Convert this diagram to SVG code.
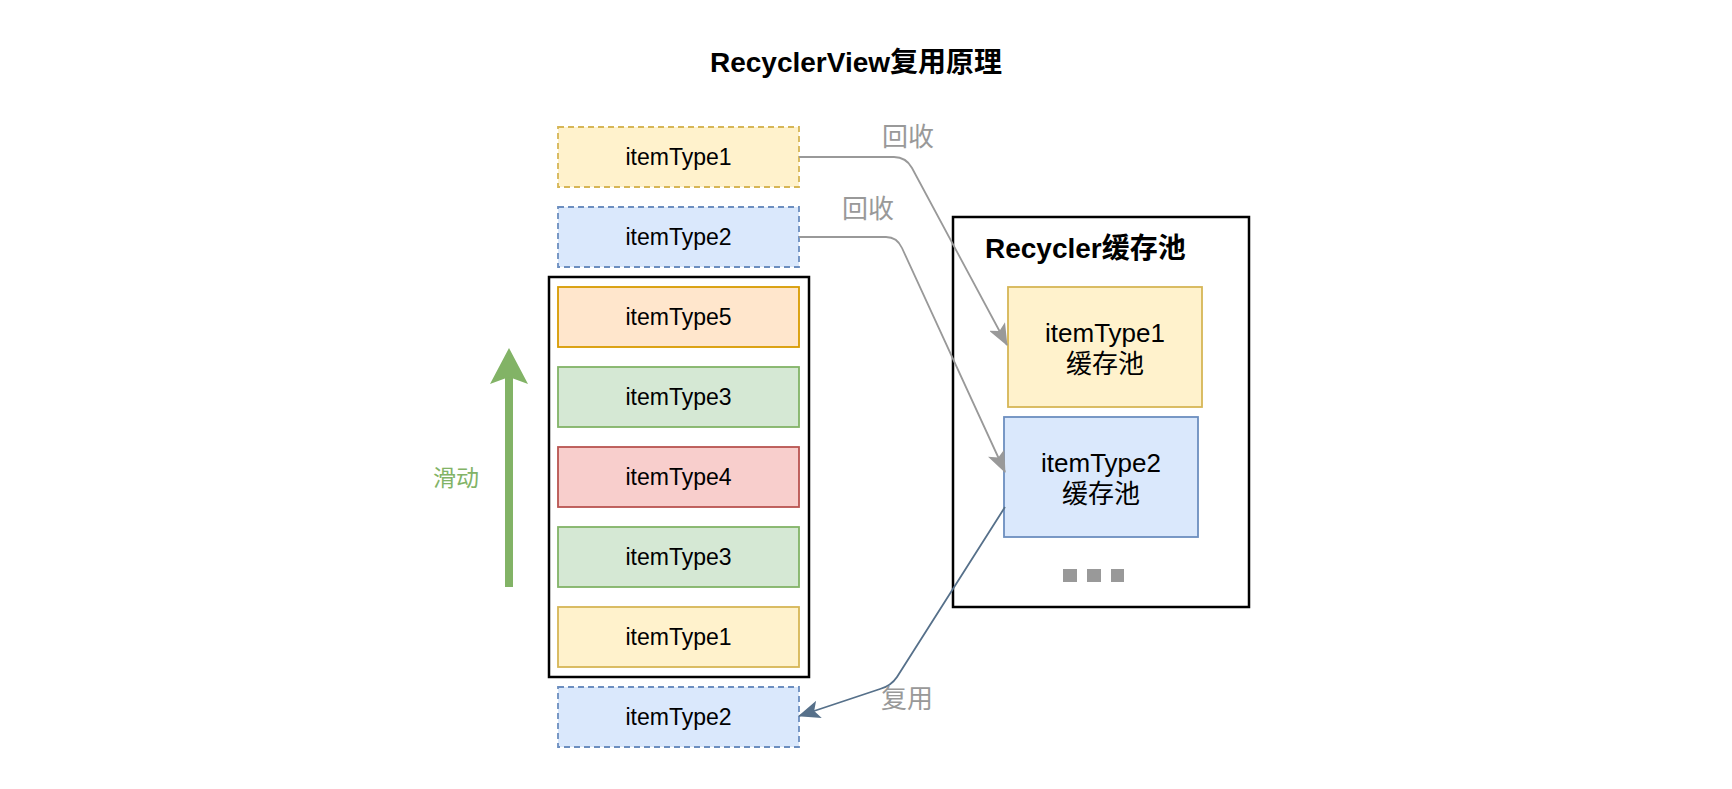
<svg xmlns="http://www.w3.org/2000/svg" width="1732" height="789" viewBox="0 0 1732 789">
<style>
text{font-family:"Liberation Sans","Noto Sans CJK SC",sans-serif;fill:#000;text-anchor:middle}
.item{font-size:23px}
.pool{font-size:26px}
.title{font-size:28px;font-weight:bold}
.lbl{font-size:26px;fill:#999}
.y{fill:#fff2cc;stroke:#d6b656;stroke-width:1.8}
.b{fill:#dae8fc;stroke:#6c8ebf;stroke-width:1.8}
.o{fill:#ffe6cc;stroke:#d79b00;stroke-width:1.8}
.g{fill:#d5e8d4;stroke:#82b366;stroke-width:1.8}
.r{fill:#f8cecc;stroke:#b85450;stroke-width:1.8}
.d{stroke-dasharray:6 4}
.frame{fill:none;stroke:#000;stroke-width:2.5}
.edge{fill:none;stroke-width:1.8}
</style>
<defs>
<marker id="ag" markerUnits="userSpaceOnUse" markerWidth="22" markerHeight="18" refX="21" refY="9" orient="auto" viewBox="0 0 22 18">
<path d="M0,0 L22,9 L0,18 L5,9 Z" fill="#999"/>
</marker>
<marker id="ab" markerUnits="userSpaceOnUse" markerWidth="22" markerHeight="18" refX="21" refY="9" orient="auto" viewBox="0 0 22 18">
<path d="M0,0 L22,9 L0,18 L5,9 Z" fill="#56708a"/>
</marker>
</defs>

<text id="title" class="title" x="856" y="72">RecyclerView复用原理</text>

<g id="list-frame"><rect class="frame" x="549" y="277" width="260" height="400"/></g>

<g id="n-top1"><rect class="y d" x="558" y="127" width="241" height="60"/><text class="item" x="678.5" y="165">itemType1</text></g>
<g id="n-top2"><rect class="b d" x="558" y="207" width="241" height="60"/><text class="item" x="678.5" y="245">itemType2</text></g>
<g id="n-t5"><rect class="o" x="558" y="287" width="241" height="60"/><text class="item" x="678.5" y="325">itemType5</text></g>
<g id="n-t3a"><rect class="g" x="558" y="367" width="241" height="60"/><text class="item" x="678.5" y="405">itemType3</text></g>
<g id="n-t4"><rect class="r" x="558" y="447" width="241" height="60"/><text class="item" x="678.5" y="485">itemType4</text></g>
<g id="n-t3b"><rect class="g" x="558" y="527" width="241" height="60"/><text class="item" x="678.5" y="565">itemType3</text></g>
<g id="n-t1"><rect class="y" x="558" y="607" width="241" height="60"/><text class="item" x="678.5" y="645">itemType1</text></g>
<g id="n-bottom2"><rect class="b d" x="558" y="687" width="241" height="60"/><text class="item" x="678.5" y="725">itemType2</text></g>

<g id="scroll">
<rect x="505" y="376" width="8" height="211" fill="#82b366"/>
<polygon points="490,384 509,348 528,384 509,377" fill="#82b366"/>
<text x="456" y="486" style="font-size:23px;fill:#82b366">滑动</text>
</g>

<g id="recycler">
<rect class="frame" x="953" y="217" width="296" height="390"/>
<text class="title" x="985" y="258" style="text-anchor:start">Recycler缓存池</text>
<g fill="#999"><rect x="1063" y="569" width="14" height="13"/><rect x="1087" y="569" width="14" height="13"/><rect x="1111" y="569" width="13" height="13"/></g>
</g>
<g id="pool1"><rect class="y" x="1008" y="287" width="194" height="120"/><text class="pool" x="1105" y="342">itemType1</text><text class="pool" x="1105" y="373">缓存池</text></g>
<g id="pool2"><rect class="b" x="1004" y="417" width="194" height="120"/><text class="pool" x="1101" y="472">itemType2</text><text class="pool" x="1101" y="503">缓存池</text></g>

<g id="connectors">
<path class="edge" stroke="#999" d="M799,157 L894,157 Q906,157 912,168 L1007,345" marker-end="url(#ag)"/>
<path class="edge" stroke="#999" d="M799,237 L886,237 Q897,237 902,248 L1005,472" marker-end="url(#ag)"/>
<path class="edge" stroke="#56708a" d="M1005,507 L897,677 Q891,686 880,689 L799,716" marker-end="url(#ab)"/>
<text class="lbl" x="908" y="146">回收</text>
<text class="lbl" x="868" y="218">回收</text>
<text class="lbl" x="907" y="708">复用</text>
</g>
</svg>
